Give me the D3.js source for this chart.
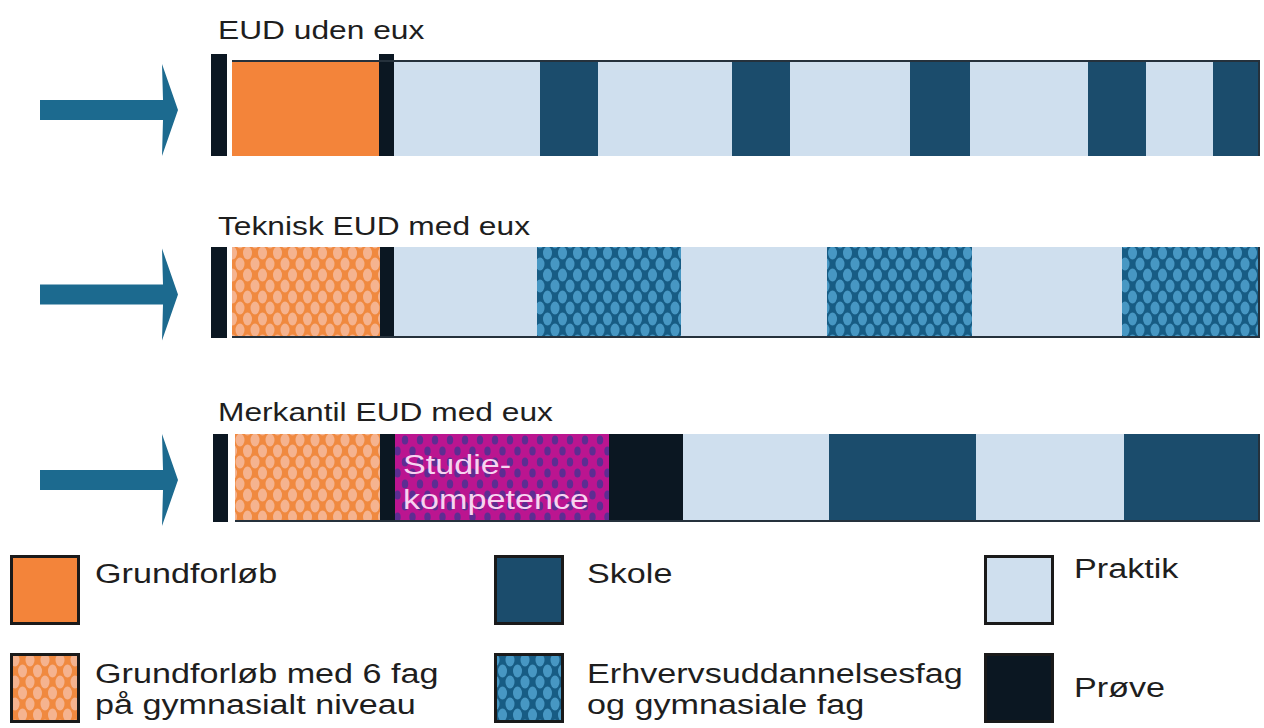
<!DOCTYPE html>
<html>
<head>
<meta charset="utf-8">
<script src="https://cdn.jsdelivr.net/npm/d3@7"></script>
<style>
  html, body { margin: 0; padding: 0; background: #fff; }
  svg { display: block; font-family: "Liberation Sans", Arial, sans-serif; }
</style>
</head>
<body>
<div id="chart"></div>
<script>
// Rows (tracks) shown in the figure
const rows = ['EUD uden eux', 'Teknisk EUD med eux', 'Merkantil EUD med eux'];

// Segment types and durations (relative units) for each row
const euxNone = [
    ['prove', 16], ['blank', 5], ['grund', 147], ['prove', 15],
    ['praktik', 146], ['skole', 58], ['praktik', 134], ['skole', 58],
    ['praktik', 120], ['skole', 60], ['praktik', 118], ['skole', 58],
    ['praktik', 67], ['skole', 47]
];
const euxTeknisk = [
    ['prove', 16], ['blank', 5], ['grund6', 148], ['prove', 14],
    ['praktik', 143], ['erhverv', 144], ['praktik', 146], ['erhverv', 145],
    ['praktik', 150], ['erhverv', 138]
];
const euxMerkantil = [
    ['blank', 2], ['prove', 15], ['blank', 7], ['grund6', 145], ['prove', 15],
    ['studie', 214], ['prove', 74], ['praktik', 146], ['skole', 147],
    ['praktik', 148], ['skole', 136]
];
const rowSegments = [euxNone, euxTeknisk, euxMerkantil];
const borderSide = ['top', 'bottom', 'bottom'];

// Legend entries
const legendKeys = ['grund', 'skole', 'praktik', 'grund6', 'erhverv', 'prove'];
const legendLabels = [
    ['Grundforløb'], ['Skole'], ['Praktik'],
    ['Grundforløb med 6 fag', 'på gymnasialt niveau'],
    ['Erhvervsuddannelsesfag', 'og gymnasiale fag'],
    ['Prøve']
];

const W = 1264, H = 728;
const fill = {
    grund: '#f3843a',
    skole: '#1b4c6c',
    praktik: '#cfdfee',
    prove: '#0b1722',
    grund6: 'url(#pat-grund6)',
    erhverv: 'url(#pat-erhverv)',
    studie: 'url(#pat-studie)',
    blank: 'none'
};

const svg = d3.select('#chart').append('svg')
    .attr('width', W)
    .attr('height', H)
    .attr('viewBox', [0, 0, W, H]);

// Dotted patterns
const defs = svg.append('defs');
function makePattern(id, bg, dot, rx, ry) {
    const p = defs.append('pattern')
        .attr('id', id)
        .attr('patternUnits', 'userSpaceOnUse')
        .attr('width', 15)
        .attr('height', 22);
    p.append('rect').attr('width', 15).attr('height', 22).attr('fill', bg);
    [[0, 0], [15, 0], [0, 22], [15, 22], [7.5, 11]].forEach(([cx, cy]) => {
        p.append('ellipse')
            .attr('cx', cx).attr('cy', cy)
            .attr('rx', rx).attr('ry', ry)
            .attr('fill', dot);
    });
}
makePattern('pat-grund6', '#f0893f', '#f5b38f', 4.5, 6.4);
makePattern('pat-erhverv', '#175c84', '#4797c3', 4.5, 6.4);
makePattern('pat-studie', '#bb1590', '#5d2d92', 3.2, 4.5);

// Scales
const total = d3.sum(euxNone, d => d[1]);
const x = d3.scaleLinear().domain([0, total]).range([211, 1260]);
const y = d3.scalePoint().domain(rows).range([60, 434]);
const barH = [96, 91, 88];
const titleGap = [21, 12, 13];

// Horizontal stretch of the source typography
const sx = 1.22;
function stretchedText(g, tx, ty, str, size, color) {
    return g.append('text')
        .attr('transform', `translate(${tx},${ty}) scale(${sx},1)`)
        .attr('font-size', size)
        .attr('fill', color)
        .text(str);
}

rows.forEach((name, i) => {
    const top = y(name);
    const h = barH[i];
    let acc = 0;
    const segs = rowSegments[i].map(([type, dur]) => {
        const s = { type, x0: acc, x1: acc + dur };
        acc += dur;
        return s;
    });

    const g = svg.append('g').attr('class', 'row');

    stretchedText(g, 218, top - titleGap[i], name, 26, '#1e1e1e');

    g.selectAll('rect')
        .data(segs.filter(s => s.type !== 'blank'))
        .join('rect')
        .attr('x', d => x(d.x0))
        .attr('y', d => d.type === 'prove' && i === 0 ? top - 6 : top)
        .attr('width', d => x(d.x1) - x(d.x0))
        .attr('height', d => d.type === 'prove' && i === 0 ? h + 6 : h)
        .attr('fill', d => fill[d.type]);

    // thin outline along one edge of the bar
    const first = segs.find(s => s.type === 'grund' || s.type === 'grund6');
    const ly = borderSide[i] === 'top' ? top + 1 : top + h - 1;
    g.append('line')
        .attr('x1', x(first.x0))
        .attr('x2', x(total))
        .attr('y1', ly).attr('y2', ly)
        .attr('stroke', '#25313c')
        .attr('stroke-width', 2);
    g.append('line')
        .attr('x1', x(total) - 1).attr('x2', x(total) - 1)
        .attr('y1', top).attr('y2', top + h)
        .attr('stroke', '#25313c')
        .attr('stroke-width', 2);

    // Studiekompetence label
    const st = segs.find(s => s.type === 'studie');
    if (st) {
        stretchedText(g, x(st.x0) + 8, top + 40, 'Studie-', 28, '#f7d3f1');
        stretchedText(g, x(st.x0) + 8, top + 75, 'kompetence', 28, '#f7d3f1');
    }

    // Arrow
    const cy = top + h / 2 + 2;
    const arrow = d3.path();
    arrow.moveTo(40, cy - 10);
    arrow.lineTo(163, cy - 10);
    arrow.lineTo(162, cy - 46);
    arrow.lineTo(178, cy);
    arrow.lineTo(162, cy + 46);
    arrow.lineTo(163, cy + 10);
    arrow.lineTo(40, cy + 10);
    arrow.closePath();
    g.append('path')
        .attr('d', arrow.toString())
        .attr('fill', '#1c6a8f');
});

// Legend
const legX = [10, 494, 984];
const legY = [555, 653];
const box = 70;
const legend = svg.append('g').attr('class', 'legend');
legendKeys.forEach((key, i) => {
    const col = i % 3, row = Math.floor(i / 3);
    const lx = legX[col], ly = legY[row];
    const item = legend.append('g');
    item.append('rect')
        .attr('x', lx + 1.5).attr('y', ly + 1.5)
        .attr('width', box - 3).attr('height', box - 3)
        .attr('fill', fill[key])
        .attr('stroke', '#1a1a1a')
        .attr('stroke-width', 3);
    const lines = legendLabels[i];
    const tx = lx + (col === 0 ? 85 : col === 1 ? 93 : 90);
    if (lines.length === 2) {
        stretchedText(item, tx, ly + 30, lines[0], 28, '#1e1e1e');
        stretchedText(item, tx, ly + 61, lines[1], 28, '#1e1e1e');
    } else {
        const base = row === 0 ? (col === 2 ? 23 : 28) : 44;
        stretchedText(item, tx, ly + base, lines[0], 28, '#1e1e1e');
    }
});
</script>
</body>
</html>
